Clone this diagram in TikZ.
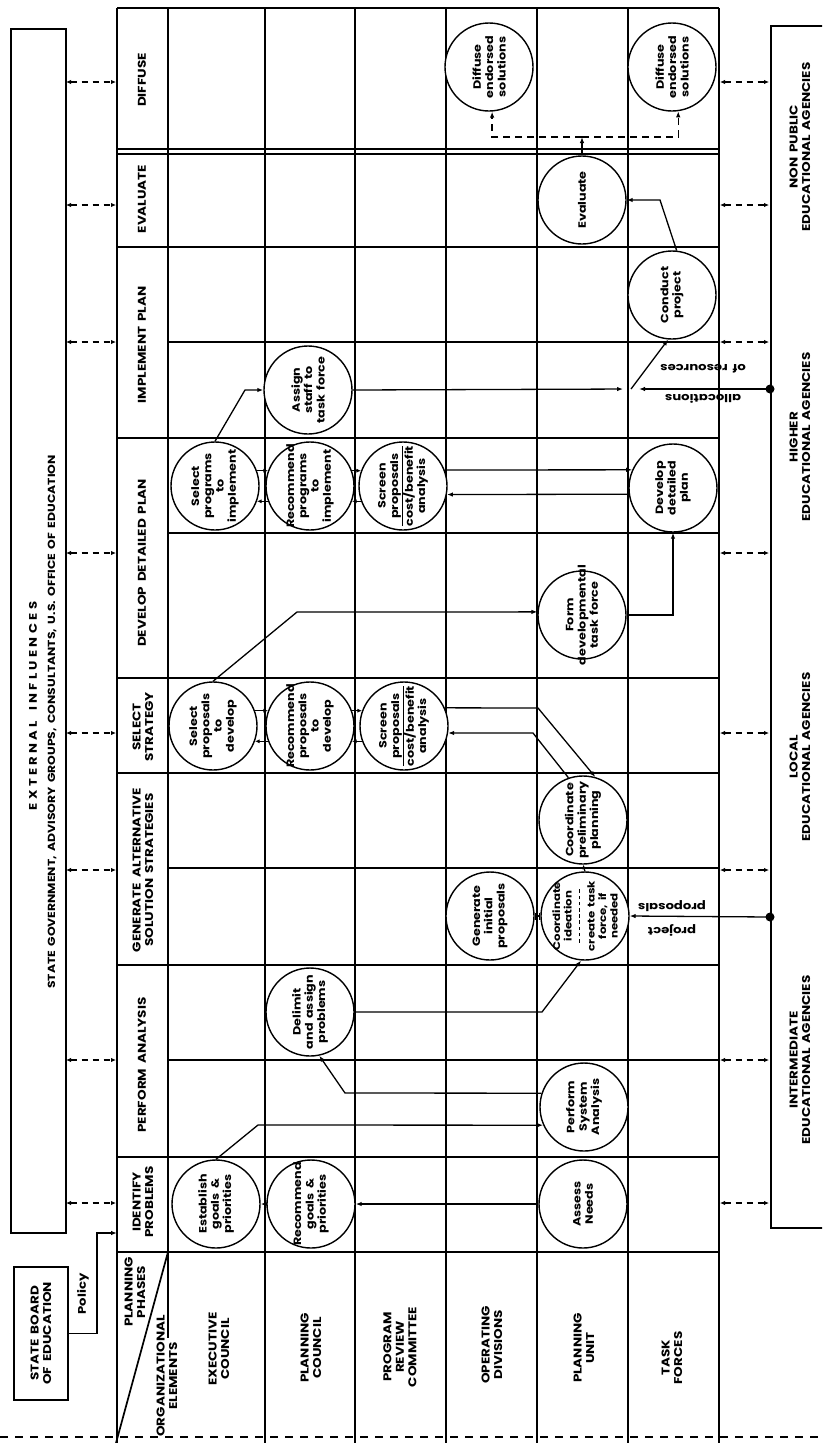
\documentclass[tikz,border=0pt]{standalone}
\usepackage{fontspec}
\usepackage{graphicx}
\setmainfont{Poppins}[FakeStretch=1.2, WordSpace=1.7]
\usetikzlibrary{arrows.meta}
\setlength{\arrayrulewidth}{1.1pt}
% type sizes
\newcommand{\cfont}{\fontsize{10.6}{12.3}\selectfont\bfseries}
\newcommand{\hfont}{\fontsize{11.3}{12.5}\selectfont\bfseries}
\newcommand{\lfont}{\fontsize{11}{12}\selectfont\bfseries}
% dashed separator inside a bubble
\newcommand{\dashsep}{\hbox to 56pt{\xleaders\hbox to 6pt{\hss\rule[0.55ex]{3.5pt}{1.1pt}\hss}\hfill}}

\tikzset{
  gridrule/.style={line width=1.7pt},
  bubble/.style={circle, draw, line width=1.4pt, fill=white, minimum size=88pt, inner sep=0pt},
  btext/.style={rotate=90, align=center, font=\cfont, inner sep=0pt},
  htext/.style={rotate=90, align=center, font=\hfont, inner sep=0pt},
  flowarrow/.style={-{Latex[length=6pt,width=4.5pt]}, line width=1.3pt},
  smallarrow/.style={-{Latex[length=4.5pt,width=4pt]}, line width=1.2pt},
  twoway/.style={{Latex[length=5pt,width=4.5pt]}-{Latex[length=5pt,width=4.5pt]}, line width=1.5pt, dash pattern=on 6pt off 5pt},
  dashflow/.style={-{Latex[length=6pt,width=4.5pt]}, line width=1.4pt, dash pattern=on 7pt off 5pt},
  panel/.style={draw, line width=1.7pt, inner sep=0pt, anchor=north west},
  upside/.style={rotate=180, font=\lfont, inner sep=0pt},
}

\begin{document}
\begin{tikzpicture}[x=1pt,y=-1pt]
\clip (0,0) rectangle (822,1443);
\fill[white] (0,0) rectangle (822,1443);

% ---------- surrounding boxes ----------
\node[panel, minimum width=55pt, minimum height=1204pt] (ext) at (10,28) {};
\node[panel, minimum width=80pt, minimum height=1202pt] (agency) at (770,25) {};
\node[panel, minimum width=54pt, minimum height=133pt] (sboe) at (13,1266) {};

\node[htext, font=\fontsize{11}{12}\selectfont\bfseries\addfontfeature{LetterSpace=30}] (ext-title) at (33,706) {EXTERNAL INFLUENCES};
\node[htext, font=\fontsize{10.3}{12}\selectfont\bfseries] (ext-list) at (52,722) {STATE GOVERNMENT, ADVISORY GROUPS, CONSULTANTS, U.S. OFFICE OF EDUCATION};
\node[htext] (sboe-t) at (sboe.center) {STATE BOARD\\OF EDUCATION};
\node[htext, font=\lfont] (policy) at (83,1294) {Policy};

\node[htext] (ag-np) at (800,147) {NON PUBLIC\\EDUCATIONAL AGENCIES};
\node[htext] (ag-hi) at (800,437) {HIGHER\\EDUCATIONAL AGENCIES};
\node[htext] (ag-lo) at (800,757) {LOCAL\\EDUCATIONAL AGENCIES};
\node[htext] (ag-im) at (800,1060) {INTERMEDIATE\\EDUCATIONAL AGENCIES};

% ---------- matrix rules ----------
\draw[gridrule] (117,8) -- (117,1443);
\draw[gridrule] (168,8) -- (168,1338);
\foreach \xx in {265,355,446,537,628,719}
  \draw[gridrule] (\xx,8) -- (\xx,1443);
\foreach \yy in {8,149,154,247,438,678,773,965,1157,1252}
  \draw[gridrule] (117,\yy) -- (719,\yy);
\foreach \yy in {342,533,868,1060}
  \draw[gridrule] (168,\yy) -- (719,\yy);
\draw[gridrule] (168,1252) -- (116,1443);
\draw[gridrule, dash pattern=on 8pt off 7pt] (0,1437) -- (822,1437);

% ---------- phase headings ----------
\node[htext] (ph-diff) at (142,80) {DIFFUSE};
\node[htext] (ph-eval) at (142,199) {EVALUATE};
\node[htext] (ph-impl) at (142,345) {IMPLEMENT PLAN};
\node[htext] (ph-dev) at (142,563) {DEVELOP DETAILED PLAN};
\node[htext] (ph-sel) at (143,727) {SELECT\\STRATEGY};
\node[htext] (ph-gen) at (143,870) {GENERATE ALTERNATIVE\\SOLUTION STRATEGIES};
\node[htext] (ph-perf) at (142,1065) {PERFORM ANALYSIS};
\node[htext] (ph-id) at (143,1202) {IDENTIFY\\PROBLEMS};
\node[htext] (ph-plan) at (135,1292) {PLANNING\\PHASES};
\node[htext] (ph-org) at (167,1376) {ORGANIZATIONAL\\ELEMENTS};

% ---------- organizational elements ----------
\node[htext] (org-ec) at (219,1349) {EXECUTIVE\\COUNCIL};
\node[htext] (org-pc) at (311,1348) {PLANNING\\COUNCIL};
\node[htext] (org-prc) at (400,1347) {PROGRAM\\REVIEW\\COMMITTEE};
\node[htext] (org-od) at (492,1345) {OPERATING\\DIVISIONS};
\node[htext] (org-pu) at (584,1348) {PLANNING\\UNIT};
\node[htext] (org-tf) at (672,1358) {TASK\\FORCES};

% ---------- activity bubbles ----------
\node[bubble] (est) at (216,1204) {};
\node[btext] (est-t) at (est) {Establish\\goals \&\\priorities};
\node[bubble] (recg) at (311,1204) {};
\node[btext] (recg-t) at (recg) {Recommend\\goals \&\\priorities};
\node[bubble] (assess) at (583,1204) {};
\node[btext] (assess-t) at (assess) {Assess\\Needs};
\node[bubble] (psa) at (584,1107) {};
\node[btext] (psa-t) at (psa) {Perform\\System\\Analysis};
\node[bubble] (delim) at (310,1012) {};
\node[btext] (delim-t) at (delim) {Delimit\\and assign\\problems};
\node[bubble] (geninit) at (490,916) {};
\node[btext] (geninit-t) at (geninit) {Generate\\initial\\proposals};
\node[bubble] (coordid) at (585,916) {};
\node[btext, font=\fontsize{9.8}{11.5}\selectfont\bfseries] (coordid-t) at (coordid) {Coordinate\\ideation\\\dashsep\\create task\\force, if\\needed};
\node[bubble] (coordpre) at (583,820) {};
\node[btext] (coordpre-t) at (coordpre) {Coordinate\\preliminary\\planning};
\node[bubble] (screenA) at (404,726) {};
\node[btext] (screenA-t) at (screenA) {\begin{tabular}{@{}c@{}}Screen\\proposals\\\hline cost/benefit\\analysis\end{tabular}};
\node[bubble] (recprop) at (310,726) {};
\node[btext] (recprop-t) at (recprop) {Recommend\\proposals\\to\\develop};
\node[bubble] (selprop) at (213,726) {};
\node[btext] (selprop-t) at (selprop) {Select\\proposals\\to\\develop};
\node[bubble] (formtf) at (582,615) {};
\node[btext] (formtf-t) at (formtf) {Form\\developmental\\task force};
\node[bubble] (devplan) at (673,488) {};
\node[btext] (devplan-t) at (devplan) {Develop\\detailed\\plan};
\node[bubble] (selprog) at (215,486) {};
\node[btext] (selprog-t) at (selprog) {Select\\programs\\to\\implement};
\node[bubble] (recprog) at (310,486) {};
\node[btext] (recprog-t) at (recprog) {Recommend\\programs\\to\\implement};
\node[bubble] (screenB) at (403,486) {};
\node[btext] (screenB-t) at (screenB) {\begin{tabular}{@{}c@{}}Screen\\proposals\\\hline cost/benefit\\analysis\end{tabular}};
\node[bubble] (assign) at (308,390) {};
\node[btext] (assign-t) at (assign) {Assign\\staff to\\task force};
\node[bubble] (conduct) at (672,295) {};
\node[btext] (conduct-t) at (conduct) {Conduct\\project};
\node[bubble] (evalu) at (582,200) {};
\node[btext] (evalu-t) at (evalu) {Evaluate};
\node[bubble] (diffA) at (489,67) {};
\node[btext] (diffA-t) at (diffA) {Diffuse\\endorsed\\solutions};
\node[bubble] (diffB) at (672,67) {};
\node[btext] (diffB-t) at (diffB) {Diffuse\\endorsed\\solutions};

% ---------- junction points ----------
\coordinate (dotA) at (770,389);
\coordinate (dotB) at (770,917);
\coordinate (jn) at (631,389);
\coordinate (ej) at (582,137);

% ---------- flows ----------
\draw[flowarrow] (est.north) -- (258,1125) -- (psa.204);
\draw[flowarrow] (psa.162) -- (345,1093) -- (delim.-78);
\draw[flowarrow] (assess.west) -- (recg.east);
\draw[flowarrow] (recg.west) -- (est.east);
\draw[flowarrow] (delim.east) -- (542,1012) -- (coordid.-95);
\draw[{Bar[width=7pt]}-{Bar[width=7pt]}, line width=1.2pt] (geninit.east) -- (coordid.west);
\draw[flowarrow] (dotB) -- (coordid.east);
\draw[smallarrow] (coordid.north) -- (coordpre.south);
\draw[flowarrow] (screenA.24) -- (538,708) -- (coordpre.74);
\draw[flowarrow] (coordpre.109) -- (533,733) -- (screenA.-9);
\draw[flowarrow] (selprop.north) -- (297,612) -- (formtf.176);
\draw[flowarrow] (formtf.east) -| (devplan.south);
\draw[flowarrow] (screenB.21) -- (devplan.156);
\draw[flowarrow] (devplan.188) -- (screenB.-11);
\draw[flowarrow] (selprog.north) -- (245,390) -- (assign.west);
\draw[flowarrow, shorten >=8pt] (assign.east) -- (jn);
\draw[flowarrow, shorten >=8pt] (dotA) -- (jn);
\draw[flowarrow] (jn) -- (conduct.-95);
\draw[flowarrow] (conduct.84) -- (660,200) -- (evalu.east);
\draw[flowarrow] (evalu.north) -- (ej);
\draw[dashflow] (ej) -| (diffA.-86);
\draw[dashflow] (ej) -| (diffB.-82);

% paired review arrows between neighbouring bubbles
\foreach \a/\b in {selprop/recprop, recprop/screenA, selprog/recprog, recprog/screenB}{
  \draw[smallarrow] (\a.20) -- (\b.160);
  \draw[smallarrow] (\b.200) -- (\a.-20);
}

% resource and proposal inputs
\fill (dotA) circle (4.5pt);
\fill (dotB) circle (4.5pt);
\node[upside] (alloc-a) at (703,399) {allocations};
\node[upside] (alloc-b) at (703,369) {of resources};
\node[upside] (prop-a) at (672,930) {project};
\node[upside] (prop-b) at (672,906) {proposals};

% ---------- external exchanges ----------
\foreach \yy in {82,205,342,553,733,870,1060,1203}{
  \draw[twoway] (66,\yy) -- (116,\yy);
  \draw[twoway] (720,\yy) -- (769,\yy);
}
\coordinate (policy-in) at (117,1233);
\draw[flowarrow] (sboe.east) -| (97,1233) -- (policy-in);

\end{tikzpicture}
\end{document}
